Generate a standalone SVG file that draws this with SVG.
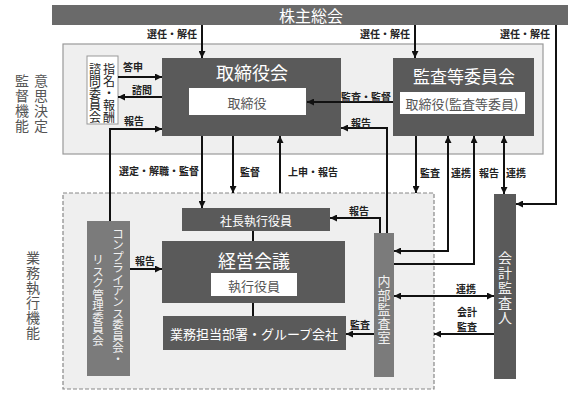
<svg xmlns="http://www.w3.org/2000/svg" width="577" height="399" viewBox="0 0 577 399">
<defs>
<marker id="ah" viewBox="0 0 10 10" refX="10" refY="5" markerWidth="8" markerHeight="7" markerUnits="userSpaceOnUse" orient="auto-start-reverse">
<path d="M0,0 L10,5 L0,10 z" fill="#111"/>
</marker>
<style>
text{font-family:"Noto Sans CJK JP","Noto Sans CJK SC",sans-serif;}
.dark{fill:#5a5a5a;}
.mid{fill:#7b7b7b;}
.wt{fill:#fff;text-anchor:middle;dominant-baseline:central;}
.inner{fill:#fff;}
.it{fill:#555;font-size:13px;text-anchor:middle;dominant-baseline:central;}
.lbl{fill:#222;font-size:10px;font-weight:bold;text-anchor:middle;dominant-baseline:central;}
.side{fill:#555;font-size:14px;text-anchor:middle;dominant-baseline:central;}
.vt{fill:#f2f2f2;text-anchor:middle;dominant-baseline:central;}
.nm{fill:#222;font-size:12px;text-anchor:middle;dominant-baseline:central;}
.c{fill:none;stroke:#111;stroke-width:2;}
.ae{marker-end:url(#ah);}
.ab{marker-start:url(#ah);marker-end:url(#ah);}
</style>
</defs>
<g id="panel-upper"><rect x="63" y="44" width="480" height="110" fill="#efefef" stroke="#999" stroke-width="1.2"/></g>
<g id="panel-lower"><rect x="63" y="193" width="371" height="196" fill="#efefef" stroke="#888" stroke-width="1.2" stroke-dasharray="4,2"/></g>
<g id="label-kansoku">
<text class="side"><tspan x="41" y="80">意</tspan><tspan x="41" y="95">思</tspan><tspan x="41" y="110">決</tspan><tspan x="41" y="125">定</tspan></text>
<text class="side"><tspan x="22" y="80">監</tspan><tspan x="22" y="95">督</tspan><tspan x="22" y="110">機</tspan><tspan x="22" y="125">能</tspan></text>
</g>
<g id="label-gyomu"><text class="side"><tspan x="33" y="257">業</tspan><tspan x="33" y="272">務</tspan><tspan x="33" y="287">執</tspan><tspan x="33" y="302">行</tspan><tspan x="33" y="317">機</tspan><tspan x="33" y="332">能</tspan></text></g>
<g id="shareholders"><rect x="52" y="5" width="516" height="20" fill="#6a6a6a"/><text class="wt" x="311" y="15" font-size="16">株主総会</text></g>
<g id="board"><rect class="dark" x="162" y="58" width="179" height="78"/><text class="wt" x="252" y="72" font-size="18">取締役会</text><rect class="inner" x="189" y="88" width="117" height="27"/><text class="it" x="247" y="102">取締役</text></g>
<g id="audit-committee"><rect class="dark" x="393" y="58" width="141" height="78"/><text class="wt" x="464" y="75" font-size="17">監査等委員会</text><rect class="inner" x="400" y="92" width="125" height="22"/><text class="it" x="462" y="103">取締役(監査等委員)</text></g>
<g id="nomination"><rect x="87" y="56" width="31" height="68" fill="#fff" stroke="#999" stroke-width="1"/>
<text class="nm"><tspan x="109" y="68">指</tspan><tspan x="109" y="80">名</tspan><tspan x="109" y="92">・</tspan><tspan x="109" y="104">報</tspan><tspan x="109" y="116">酬</tspan></text>
<text class="nm"><tspan x="95" y="68">諮</tspan><tspan x="95" y="80">問</tspan><tspan x="95" y="92">委</tspan><tspan x="95" y="104">員</tspan><tspan x="95" y="116">会</tspan></text></g>
<g id="president"><rect class="dark" x="182" y="208" width="148" height="23"/><text class="wt" x="256" y="220" font-size="12">社長執行役員</text></g>
<g id="management"><rect class="dark" x="162" y="241" width="183" height="62"/><text class="wt" x="254" y="260" font-size="18">経営会議</text><rect class="inner" x="211" y="273" width="86" height="23"/><text class="it" x="254" y="285">執行役員</text></g>
<g id="business"><rect class="dark" x="163" y="316" width="183" height="34"/><text class="wt" x="254" y="333" font-size="13">業務担当部署・グループ会社</text></g>
<g id="compliance"><rect class="mid" x="87" y="221" width="43" height="155"/>
<text class="vt" font-size="11.5"><tspan x="118" y="233">コ</tspan><tspan x="118" y="244.4">ン</tspan><tspan x="118" y="255.8">プ</tspan><tspan x="118" y="267.2">ラ</tspan><tspan x="118" y="278.6">イ</tspan><tspan x="118" y="290">ア</tspan><tspan x="118" y="301.4">ン</tspan><tspan x="118" y="312.8">ス</tspan><tspan x="118" y="324.2">委</tspan><tspan x="118" y="335.6">員</tspan><tspan x="118" y="347">会</tspan><tspan x="118" y="358.4">・</tspan></text>
<text class="vt" font-size="11.5"><tspan x="98" y="259">リ</tspan><tspan x="98" y="270.5">ス</tspan><tspan x="98" y="282">ク</tspan><tspan x="98" y="293.5">管</tspan><tspan x="98" y="305">理</tspan><tspan x="98" y="316.5">委</tspan><tspan x="98" y="328">員</tspan><tspan x="98" y="339.5">会</tspan></text></g>
<g id="internal-audit"><rect class="mid" x="374" y="233" width="20" height="144"/>
<text class="vt" font-size="13"><tspan x="384" y="280">内</tspan><tspan x="384" y="294">部</tspan><tspan x="384" y="308">監</tspan><tspan x="384" y="322">査</tspan><tspan x="384" y="336">室</tspan></text></g>
<g id="auditor"><rect class="dark" x="494" y="194" width="22" height="185"/>
<text class="vt" font-size="14"><tspan x="505" y="257">会</tspan><tspan x="505" y="272">計</tspan><tspan x="505" y="287">監</tspan><tspan x="505" y="302">査</tspan><tspan x="505" y="317">人</tspan></text></g>
<g id="connectors">
<path class="c ae" d="M202,25 V58"/>
<path class="c ae" d="M415,25 V58"/>
<path class="c ae" d="M556,25 V204 H516"/>
<path class="c ae" d="M118,77 H162"/>
<path class="c ae" d="M162,97 H118"/>
<path class="c ae" d="M110,221 V129 H162"/>
<path class="c ae" d="M393,102 H307"/>
<path class="c ae" d="M387,233 V128 H341"/>
<path class="c ae" d="M202,136 V208"/>
<path class="c ae" d="M233,136 V193"/>
<path class="c ae" d="M280,193 V136"/>
<path class="c ae" d="M416,136 V193"/>
<path class="c ab" d="M448,136 V251 H394"/>
<path class="c ae" d="M394,264 H474 V136"/>
<path class="c ab" d="M504,136 V194"/>
<path class="c ae" d="M380,233 V218 H330"/>
<path class="c ae" d="M130,269 H162"/>
<path class="c" d="M253,231 V241"/>
<path class="c" d="M253,303 V316"/>
<path class="c ab" d="M394,296 H494"/>
<path class="c ae" d="M494,334 H434"/>
<path class="c ae" d="M374,334 H346"/>
<text class="lbl" x="172" y="33">選任・解任</text>
<text class="lbl" x="385" y="33">選任・解任</text>
<text class="lbl" x="525" y="33">選任・解任</text>
<text class="lbl" x="133" y="66">答申</text>
<text class="lbl" x="142" y="89">諮問</text>
<text class="lbl" x="134" y="120">報告</text>
<text class="lbl" x="366" y="96">監査・監督</text>
<text class="lbl" x="361" y="122">報告</text>
<text class="lbl" x="159" y="170">選定・解職・監督</text>
<text class="lbl" x="250" y="171">監督</text>
<text class="lbl" x="313" y="171">上申・報告</text>
<text class="lbl" x="430" y="172">監査</text>
<text class="lbl" x="461" y="172">連携</text>
<text class="lbl" x="489" y="172">報告</text>
<text class="lbl" x="516" y="172">連携</text>
<text class="lbl" x="359" y="210">報告</text>
<text class="lbl" x="145" y="260">報告</text>
<text class="lbl" x="466" y="288">連携</text>
<text class="lbl" x="467" y="311">会計</text>
<text class="lbl" x="467" y="326">監査</text>
<text class="lbl" x="360" y="324">監査</text>
</g>
</svg>
